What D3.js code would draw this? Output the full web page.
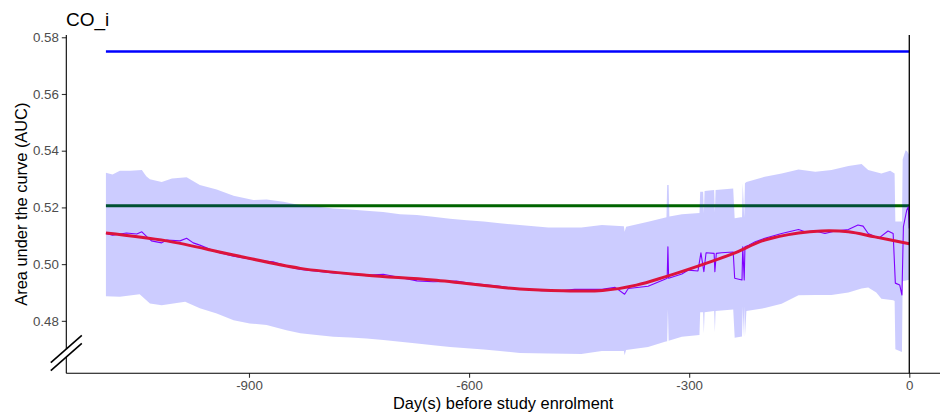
<!DOCTYPE html>
<html>
<head>
<meta charset="utf-8">
<script src="https://cdn.jsdelivr.net/npm/d3@7"></script>
<style>
  html, body { margin: 0; padding: 0; background: #ffffff; }
  svg { display: block; font-family: "Liberation Sans", Arial, sans-serif; }
</style>
</head>
<body>
<svg id="chart" width="940" height="418"></svg>
<script>
// ---------------- data ----------------
const chartTitle = "CO_i";
const xTitle = "Day(s) before study enrolment";
const yTitle = "Area under the curve (AUC)";
const xTicks = [-900, -600, -300, 0];
const yTicks = [0.48, 0.50, 0.52, 0.54, 0.56, 0.58];

// reference lines
const blueLevel = 0.575;
const greenLevel = 0.5206;
const refStartDay = -1095;
const refEndDay = 0;

// ribbon (upper edge)
const upperDays = [-1095,-1086,-1076,-1062,-1046,-1040,-1035,-1019,-1005,-985,-967,-944,-921,-894,-876,-853,-830,-808,-785,-762,-740,-717,-694,-671,-649,-626,-603,-580,-558,-531,-492,-447,-419,-389,-388,-386,-356,-331,-330,-328,-327,-310,-286,-285,-281,-280,-279,-266,-265,-264,-240,-238,-230,-228,-227,-225,-224,-222,-197,-174,-151,-128,-106,-83,-65,-56,-38,-26,-20,-19,-10,-9,-5,-3,0];
const upperValues = [0.5322,0.5316,0.5329,0.5329,0.5332,0.5310,0.5299,0.5290,0.5302,0.5306,0.5279,0.5263,0.5241,0.5226,0.5228,0.5220,0.5208,0.5203,0.5196,0.5193,0.5188,0.5184,0.5176,0.5173,0.5167,0.5160,0.5155,0.5150,0.5144,0.5138,0.5129,0.5129,0.5138,0.5134,0.5114,0.5132,0.5149,0.5165,0.5279,0.5279,0.5168,0.5176,0.5180,0.5255,0.5255,0.5180,0.5258,0.5261,0.5182,0.5261,0.5267,0.5162,0.5165,0.5165,0.5285,0.5165,0.5285,0.5290,0.5308,0.5320,0.5334,0.5326,0.5332,0.5346,0.5353,0.5332,0.5320,0.5329,0.5320,0.5150,0.5150,0.5370,0.5402,0.5398,0.5385];

// ribbon (lower edge)
const lowerDays = [-1095,-1076,-1049,-1035,-1019,-987,-967,-944,-921,-899,-876,-849,-830,-808,-785,-762,-740,-717,-694,-671,-649,-626,-603,-580,-558,-531,-492,-447,-419,-389,-388,-386,-356,-333,-330,-329,-328,-310,-286,-285,-281,-280,-279,-266,-265,-264,-240,-238,-228,-227,-226,-225,-224,-222,-197,-174,-151,-128,-106,-83,-65,-56,-45,-38,-22,-20,-19,-10,-9,0];
const lowerValues = [0.4887,0.4885,0.4894,0.4861,0.4855,0.4867,0.4844,0.4826,0.4802,0.4791,0.4785,0.4767,0.4756,0.4750,0.4744,0.4741,0.4738,0.4732,0.4726,0.4720,0.4714,0.4708,0.4703,0.4699,0.4694,0.4687,0.4685,0.4683,0.4694,0.4694,0.4679,0.4697,0.4708,0.4726,0.4728,0.4840,0.4730,0.4744,0.4750,0.4830,0.4830,0.4755,0.4830,0.4835,0.4760,0.4835,0.4840,0.4740,0.4745,0.4850,0.4745,0.4850,0.4745,0.4835,0.4845,0.4860,0.4890,0.4891,0.4891,0.4900,0.4914,0.4918,0.4900,0.4878,0.4873,0.4870,0.4700,0.4690,0.4940,0.4945];

// daily mean AUC (purple)
const meanDays = [-1095,-1086,-1067,-1053,-1046,-1039,-1033,-1019,-1012,-994,-985,-976,-967,-944,-921,-903,-885,-867,-849,-830,-785,-740,-717,-694,-671,-649,-617,-603,-558,-537,-501,-478,-456,-419,-401,-388,-383,-356,-333,-330,-329,-328,-310,-301,-288,-284,-280,-277,-266,-265,-263,-256,-240,-238,-228,-227,-225,-224,-219,-210,-197,-174,-151,-142,-128,-115,-101,-83,-70,-63,-56,-42,-29,-22,-19,-13,-10,-8,-3.5,-1.4,0];
const meanValues = [0.5108,0.5102,0.5110,0.5106,0.5114,0.5096,0.5082,0.5075,0.5085,0.5082,0.5091,0.5075,0.5067,0.5043,0.5028,0.5020,0.5012,0.5008,0.4993,0.4981,0.4969,0.4961,0.4964,0.4953,0.4941,0.4938,0.4940,0.4934,0.4922,0.4914,0.4906,0.4906,0.4911,0.4911,0.4918,0.4894,0.4914,0.4922,0.4947,0.4950,0.5061,0.4950,0.4965,0.4979,0.4976,0.5040,0.4973,0.5040,0.5038,0.4973,0.5038,0.5040,0.5043,0.4950,0.4944,0.5061,0.4944,0.5061,0.5067,0.5079,0.5091,0.5108,0.5122,0.5114,0.5117,0.5108,0.5117,0.5122,0.5138,0.5134,0.5108,0.5091,0.5117,0.5108,0.4933,0.4926,0.4891,0.5132,0.5190,0.5202,0.5126];

// smoothed trend (red)
const smoothDays = [-1095,-1012,-921,-830,-740,-649,-531,-472,-418,-372,-333,-288,-242,-197,-151,-120,-83,-47,0];
const smoothValues = [0.5110,0.5082,0.5032,0.4985,0.4961,0.4944,0.4912,0.4906,0.4907,0.4926,0.4955,0.4993,0.5035,0.5085,0.5110,0.5117,0.5114,0.5096,0.5072];

// ---------------- drawing ----------------
const svg = d3.select("#chart");
const x = d3.scaleLinear().domain([-1149, 42]).range([66.3, 940.1]);
const y = d3.scaleLinear().domain([0.4615, 0.5808]).range([373.3, 35]);

const upperPts = upperDays.map((d, i) => [d, upperValues[i]]);
const lowerPts = lowerDays.map((d, i) => [d, lowerValues[i]]);
const bandPts = upperPts.concat(lowerPts.slice().reverse());

const lineGen = d3.line().x(d => x(d[0])).y(d => y(d[1]));

// green reference (drawn under ribbon)
svg.append("line")
  .attr("x1", x(refStartDay)).attr("x2", x(refEndDay))
  .attr("y1", y(greenLevel)).attr("y2", y(greenLevel))
  .attr("stroke", "#006400").attr("stroke-width", 3);

// ribbon
svg.append("path")
  .attr("d", lineGen(bandPts) + "Z")
  .attr("fill", "#0000ff").attr("fill-opacity", 0.2).attr("stroke", "none");

// blue reference
svg.append("line")
  .attr("x1", x(refStartDay)).attr("x2", x(refEndDay))
  .attr("y1", y(blueLevel)).attr("y2", y(blueLevel))
  .attr("stroke", "#0000ff").attr("stroke-width", 2.6);

// mean line
svg.append("path")
  .attr("d", lineGen(meanDays.map((d, i) => [d, meanValues[i]])))
  .attr("fill", "none").attr("stroke", "#8000ff").attr("stroke-width", 1.1)
  .attr("stroke-linejoin", "round");

// smooth trend
svg.append("path")
  .attr("d", d3.line().x(d => x(d[0])).y(d => y(d[1])).curve(d3.curveCatmullRom.alpha(0.5))(smoothDays.map((d, i) => [d, smoothValues[i]])))
  .attr("fill", "none").attr("stroke", "#dc143c").attr("stroke-width", 3);

// vertical line at day 0
svg.append("line")
  .attr("x1", x(0)).attr("x2", x(0))
  .attr("y1", 35).attr("y2", y.range()[0])
  .attr("stroke", "#000").attr("stroke-width", 1.3);

// axes
const yAxis = d3.axisLeft(y).tickValues(yTicks).tickFormat(d3.format(".2f")).tickSize(4.5).tickPadding(3);
const gy = svg.append("g").attr("transform", `translate(${x.range()[0]},0)`).call(yAxis);
gy.select(".domain").remove();
gy.append("line").attr("x1", 0).attr("x2", 0).attr("y1", 35).attr("y2", y.range()[0])
  .attr("stroke", "#000").attr("stroke-width", 1.1);
gy.selectAll(".tick line").attr("stroke", "#333").attr("stroke-width", 1.1);
gy.selectAll(".tick text").attr("fill", "#4d4d4d").style("font-size", "13.3px")
  .style("font-family", "Liberation Sans, Arial, sans-serif");

const xAxis = d3.axisBottom(x).tickValues(xTicks).tickFormat(d3.format("d")).tickSize(4.5).tickPadding(3);
const gx = svg.append("g").attr("transform", `translate(0,${y.range()[0]})`).call(xAxis);
gx.select(".domain").remove();
gx.append("line").attr("x1", x.range()[0]).attr("x2", x.range()[1]).attr("y1", 0).attr("y2", 0)
  .attr("stroke", "#000").attr("stroke-width", 1.1);
gx.selectAll(".tick line").attr("stroke", "#333").attr("stroke-width", 1.1);
gx.selectAll(".tick text").attr("fill", "#4d4d4d").style("font-size", "13.3px")
  .style("font-family", "Liberation Sans, Arial, sans-serif")
  .text(d => d < 0 ? "-" + Math.abs(d) : String(d));

// axis break marks
const bx = x.range()[0], by = 349;
const bw = 15.5, bh = 13.7, gap = 8;
svg.append("path")
  .attr("d", `M${bx - bw},${by + bh} L${bx + bw},${by - bh} L${bx + bw},${by - bh + gap} L${bx - bw},${by + bh + gap} Z`)
  .attr("fill", "#fff").attr("stroke", "none");
svg.append("line").attr("x1", bx - bw).attr("y1", by + bh).attr("x2", bx + bw).attr("y2", by - bh)
  .attr("stroke", "#000").attr("stroke-width", 1.6);
svg.append("line").attr("x1", bx - bw).attr("y1", by + bh + gap).attr("x2", bx + bw).attr("y2", by - bh + gap)
  .attr("stroke", "#000").attr("stroke-width", 1.6);

// titles
svg.append("text").attr("x", 66).attr("y", 26).text(chartTitle)
  .style("font-size", "19px").attr("fill", "#000");
svg.append("text").attr("x", (x.range()[0] + x.range()[1]) / 2).attr("y", 409)
  .attr("text-anchor", "middle").style("font-size", "16.4px").attr("fill", "#000").text(xTitle);
svg.append("text").attr("transform", `translate(27,${(35 + 373.3) / 2}) rotate(-90)`)
  .attr("text-anchor", "middle").style("font-size", "16.4px").attr("fill", "#000").text(yTitle);
</script>
</body>
</html>
